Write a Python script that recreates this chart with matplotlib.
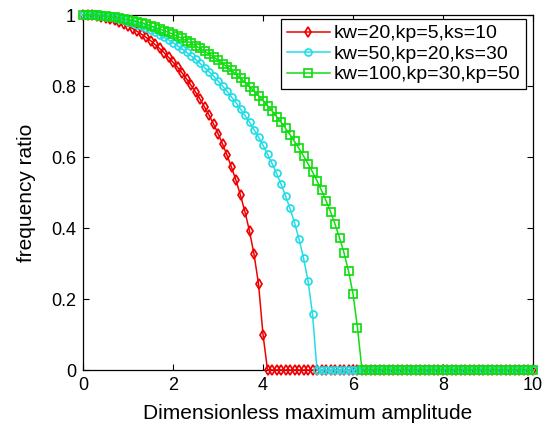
import matplotlib
matplotlib.use("Agg")
import matplotlib.pyplot as plt  # noqa: E402
import numpy as np  # noqa: E402

plt.rcParams["font.family"] = ["Liberation Sans", "DejaVu Sans"]

# amplitude grid, 0..10 in steps of 0.1
AMPLITUDE = np.linspace(0, 10, 101)

# frequency ratio, one value per marker
RED_VALUES = [
    1.000, 1.000, 0.999, 0.997, 0.995, 0.992, 0.989, 0.985, 0.980, 0.975,
    0.969, 0.962, 0.954, 0.946, 0.937, 0.928, 0.917, 0.906, 0.894, 0.881,
    0.867, 0.853, 0.837, 0.820, 0.802, 0.783, 0.763, 0.741, 0.718, 0.693,
    0.666, 0.637, 0.605, 0.571, 0.534, 0.492, 0.445, 0.391, 0.326, 0.243,
    0.100,
] + [0.0] * 60
CYAN_VALUES = [
    1.000, 1.000, 0.999, 0.998, 0.997, 0.995, 0.993, 0.991, 0.988, 0.985,
    0.981, 0.977, 0.973, 0.968, 0.963, 0.957, 0.951, 0.944, 0.937, 0.930,
    0.922, 0.914, 0.905, 0.895, 0.885, 0.875, 0.864, 0.852, 0.840, 0.828,
    0.814, 0.800, 0.785, 0.769, 0.753, 0.735, 0.717, 0.698, 0.677, 0.656,
    0.633, 0.608, 0.582, 0.554, 0.524, 0.491, 0.455, 0.415, 0.369, 0.316,
    0.251, 0.158,
] + [0.0] * 49
GREEN_VALUES = [
    1.000, 1.000, 0.999, 0.999, 0.998, 0.997, 0.995, 0.993, 0.991, 0.989,
    0.987, 0.984, 0.981, 0.977, 0.974, 0.970, 0.965, 0.961, 0.956, 0.951,
    0.946, 0.940, 0.934, 0.927, 0.921, 0.913, 0.906, 0.898, 0.890, 0.882,
    0.873, 0.863, 0.854, 0.844, 0.833, 0.822, 0.810, 0.798, 0.786, 0.773,
    0.759, 0.745, 0.730, 0.714, 0.698, 0.681, 0.663, 0.644, 0.624, 0.603,
    0.581, 0.558, 0.533, 0.506, 0.477, 0.446, 0.411, 0.373, 0.330, 0.279,
    0.215, 0.119,
] + [0.0] * 39

LABELS = ["kw=20,kp=5,ks=10", "kw=50,kp=20,ks=30", "kw=100,kp=30,kp=50"]
X_TICKS = [0, 2, 4, 6, 8, 10]
Y_TICKS = [0, 0.2, 0.4, 0.6, 0.8, 1]
Y_TICK_LABELS = ["0", "0.2", "0.4", "0.6", "0.8", "1"]

RED = "#f00000"
CYAN = "#22dde6"
GREEN = "#11dd11"

fig = plt.figure(figsize=(5.48, 4.29), dpi=100, facecolor="white")
ax = fig.add_axes([0.1515, 0.1375, 0.8211, 0.8275])

series = [
    (RED_VALUES, RED, "d", 5),
    (CYAN_VALUES, CYAN, "o", 5),
    (GREEN_VALUES, GREEN, "s", 6),
]
for (vals, color, marker, ms), label in zip(series, LABELS):
    ax.plot(AMPLITUDE, vals, color=color, linewidth=1.1, marker=marker,
            markersize=ms, markerfacecolor="none", markeredgecolor=color,
            markeredgewidth=1.25, label=label, clip_on=False, zorder=3)

ax.set_xlim(0, 10)
ax.set_ylim(0, 1)
ax.set_xticks(X_TICKS)
ax.set_xticklabels([str(t) for t in X_TICKS])
ax.set_yticks(Y_TICKS)
ax.set_yticklabels(Y_TICK_LABELS)
ax.tick_params(direction="in", length=4, width=0.8, top=True, right=True,
               labelsize=13, pad=5, colors="black")
for side in ax.spines.values():
    side.set_color("black")
    side.set_linewidth(0.9)

ax.set_xlabel("Dimensionless maximum amplitude", fontsize=15, labelpad=7)
ax.set_ylabel("frequency ratio", fontsize=15, labelpad=11)

leg = ax.legend(loc="upper right", bbox_to_anchor=(0.985, 0.989),
                borderaxespad=0, fontsize=14, handlelength=2.2,
                handletextpad=0.2, labelspacing=0.15, borderpad=0.3,
                numpoints=1, fancybox=False, framealpha=1, edgecolor="black")
leg.get_frame().set_linewidth(0.9)

fig.savefig("out.png", dpi=100, facecolor="white")
